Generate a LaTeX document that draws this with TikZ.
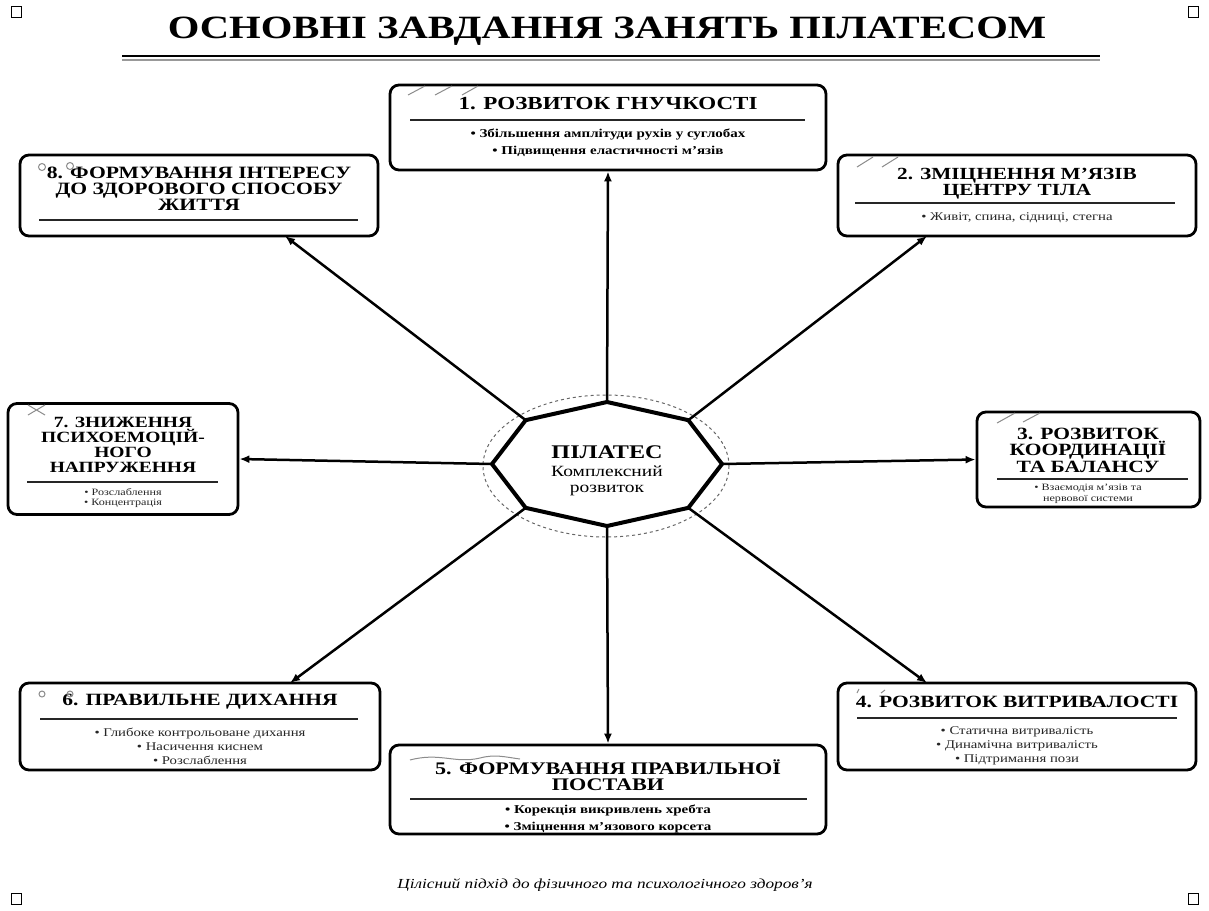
\documentclass[tikz,border=0pt]{standalone}
\usepackage{fontspec}
\setmainfont{Liberation Serif}[FakeStretch=1.25]
\usetikzlibrary{arrows.meta}

\newcommand{\fsz}[2]{\fontsize{#1}{#2}\selectfont}

\begin{document}
\begin{tikzpicture}[x=1pt,y=-1pt,
  taskbox/.style={draw, line width=2.8pt, rounded corners=9pt, fill=white, inner sep=0pt},
  ttl/.style={font=\bfseries\fsz{17.2}{16.5}, align=center, inner sep=0pt},
  item/.style={font=\fsz{11.8}{14}, text=black!85, align=center, inner sep=0pt},
  bolditem/.style={font=\bfseries\fsz{12}{17}, align=center, inner sep=0pt},
  smallitem/.style={font=\fsz{9.7}{10.5}, text=black!85, align=center, inner sep=0pt},
  rulebar/.style={line width=1.4pt, black!85},
  link/.style={line width=2.5pt, -{Latex[length=10pt,width=8pt]}},
  deco/.style={black!45, line width=1pt}]
  \useasboundingbox (0,0) rectangle (1209,910);

  % corner marks
  \draw[line width=1pt] (11,6) rectangle (21,17);
  \draw[line width=1pt] (1188,6) rectangle (1198,17);
  \draw[line width=1pt] (11,893) rectangle (21,904);
  \draw[line width=1pt] (1188,893) rectangle (1198,904);

  % heading
  \node[font=\bfseries\fsz{32.5}{33}, inner sep=0pt] (head) at (607,31) {ОСНОВНІ ЗАВДАННЯ ЗАНЯТЬ ПІЛАТЕСОМ};
  \draw[line width=1.8pt] (122,56) -- (1100,56);
  \draw[line width=2.2pt, black!40] (122,60) -- (1100,60);

  % centre
  \foreach \i in {0,...,7}
    \coordinate (v\i) at ({607+115*cos(45*\i)},{464-62*sin(45*\i)});
  \draw[dashed, black!60, line width=1pt] (606,466) ellipse [x radius=123, y radius=71];

  % boxes
  \node[taskbox, minimum width=436, minimum height=85] (b1) at (608,127.5) {};
  \node[taskbox, minimum width=358, minimum height=81] (b2) at (1017,195.5) {};
  \node[taskbox, minimum width=223, minimum height=95] (b3) at (1088.5,459.5) {};
  \node[taskbox, minimum width=358, minimum height=87] (b4) at (1017,726.5) {};
  \node[taskbox, minimum width=436, minimum height=89] (b5) at (608,789.5) {};
  \node[taskbox, minimum width=360, minimum height=87] (b6) at (200,726.5) {};
  \node[taskbox, minimum width=230, minimum height=111] (b7) at (123,459) {};
  \node[taskbox, minimum width=358, minimum height=81] (b8) at (199,195.5) {};

  \coordinate (e2) at (927,236);
  \coordinate (e4) at (927,683);
  \coordinate (e6) at (290,683);
  \coordinate (e8) at (285,236);

  % connectors
  \draw[link] (v2) -- (b1.south);
  \draw[link] (v1) -- (e2);
  \draw[link] (v0) -- (b3.west);
  \draw[link] (v7) -- (e4);
  \draw[link] (v6) -- (b5.north);
  \draw[link] (v5) -- (e6);
  \draw[link] (v4) -- (b7.east);
  \draw[link] (v3) -- (e8);

  \draw[line width=4pt, fill=white, line join=miter]
    (v0) -- (v1) -- (v2) -- (v3) -- (v4) -- (v5) -- (v6) -- (v7) -- cycle;
  \node[font=\bfseries\fsz{19.3}{20}, inner sep=0pt] (core) at (607,452) {ПІЛАТЕС};
  \node[font=\fsz{15.6}{16}, align=center, inner sep=0pt] (coresub) at (607,481) {Комплексний\\розвиток};

  % 1
  \node[ttl, font=\bfseries\fsz{18.4}{18}] (t1) at (608,104) {1. РОЗВИТОК ГНУЧКОСТІ};
  \draw[rulebar] (410,120) -- (805,120);
  \node[bolditem] (i1) at (608,143) {• Збільшення амплітуди рухів у суглобах\\• Підвищення еластичності м'язів};
  \draw[deco] (408,95) -- (425,86) (435,95) -- (452,86) (462,95) -- (478,86);

  % 2
  \node[ttl, font=\bfseries\fsz{17}{16}] (t2) at (1017,184) {2. ЗМІЦНЕННЯ М'ЯЗІВ\\ЦЕНТРУ ТІЛА};
  \draw[rulebar] (855,203) -- (1175,203);
  \node[item] (i2) at (1017,218) {• Живіт, спина, сідниці, стегна};
  \draw[deco] (857,167) -- (873,157) (882,167) -- (898,157);

  % 3
  \node[ttl] (t3) at (1088,450) {3. РОЗВИТОК\\КООРДИНАЦІЇ\\ТА БАЛАНСУ};
  \draw[rulebar] (997,479) -- (1188,479);
  \node[smallitem] (i3) at (1088,494) {• Взаємодія м'язів та\\нервової системи};
  \draw[deco] (997,423) -- (1015,413) (1023,422) -- (1040,413);

  % 4
  \node[ttl] (t4) at (1017,702) {4. РОЗВИТОК ВИТРИВАЛОСТІ};
  \draw[rulebar] (857,718) -- (1177,718);
  \node[item] (i4) at (1017,746) {• Статична витривалість\\• Динамічна витривалість\\• Підтримання пози};
  \draw[deco] (857,693) -- (859,689) (881,693) -- (885,690);

  % 5
  \node[ttl, font=\bfseries\fsz{17.7}{15.5}] (t5) at (608,775) {5. ФОРМУВАННЯ ПРАВИЛЬНОЇ\\ПОСТАВИ};
  \draw[rulebar] (410,799) -- (807,799);
  \node[bolditem] (i5) at (608,819) {• Корекція викривлень хребта\\• Зміцнення м'язового корсета};
  \draw[deco] (410,760) .. controls (440,752) and (455,764) .. (480,758)
                        .. controls (495,754) and (505,757) .. (520,759);

  % 6
  \node[ttl] (t6) at (200,702) {6. ПРАВИЛЬНЕ ДИХАННЯ};
  \draw[rulebar] (40,719) -- (358,719);
  \node[item] (i6) at (200,746) {• Глибоке контрольоване дихання\\• Насичення киснем\\• Розслаблення};
  \draw[deco] (42,694) circle [radius=3] (70,694) circle [radius=3];

  % 7
  \node[ttl, font=\bfseries\fsz{15.6}{15}] (t7) at (123,445) {7. ЗНИЖЕННЯ\\ПСИХОЕМОЦІЙ-\\НОГО\\НАПРУЖЕННЯ};
  \draw[rulebar] (27,482) -- (218,482);
  \node[smallitem] (i7) at (123,498) {• Розслаблення\\• Концентрація};
  \draw[deco] (28,405) -- (45,415) (28,415) -- (45,405);

  % 8
  \node[ttl, font=\bfseries\fsz{17.3}{16}] (t8) at (199,189) {8. ФОРМУВАННЯ ІНТЕРЕСУ\\ДО ЗДОРОВОГО СПОСОБУ\\ЖИТТЯ};
  \draw[rulebar] (39,220) -- (358,220);
  \draw[deco] (42,167) circle [radius=3.5] (70,166) circle [radius=3.5];

  % footer
  \node[font=\itshape\fsz{13.8}{14}, inner sep=0pt] (foot) at (605,885) {Цілісний підхід до фізичного та психологічного здоров'я};
\end{tikzpicture}
\end{document}
